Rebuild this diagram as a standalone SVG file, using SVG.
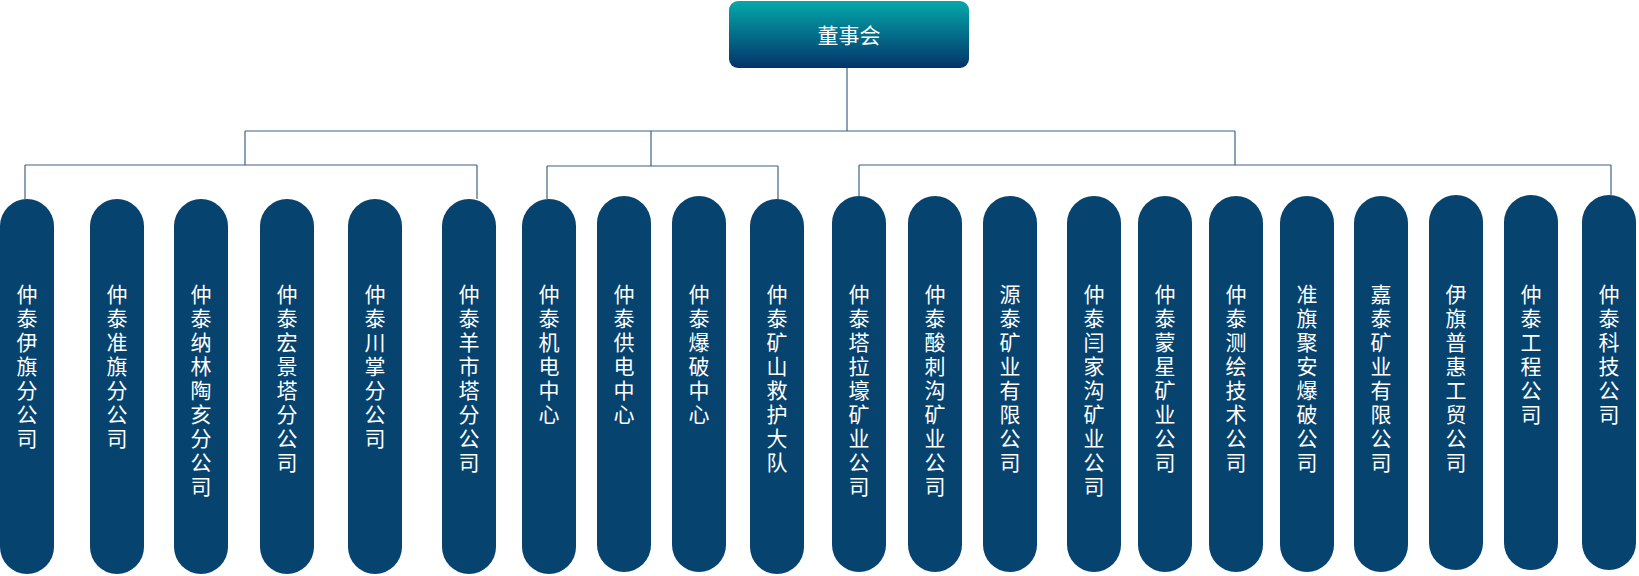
<svg xmlns="http://www.w3.org/2000/svg" width="1639" height="576" viewBox="0 0 1639 576">
<style>
.p{fill:#06436f}
.t{fill:#fff;font-family:"Noto Sans CJK SC",sans-serif;font-size:21px;text-anchor:middle}
.c{fill:none;stroke:#3d6385;stroke-width:1.2}
</style>
<defs><linearGradient id="g" x1="0" y1="0" x2="0" y2="1"><stop offset="0" stop-color="#03a9aa"/><stop offset="1" stop-color="#04336a"/></linearGradient></defs>
<g id="root"><rect x="729" y="1" width="240" height="67" rx="9" fill="url(#g)"/><text class="t" x="849" y="43">董事会</text></g>
<g id="connectors">
<path class="c" d="M847 68V131M245 131H1235M245 131V165M25 165H477M25 165V199M477 165V199M651 131V166M547 166H778M547 166V199M778 166V199M1235 131V165M859 165H1611M859 165V196M1611 165V195"/>
</g>
<g id="n1"><rect class="p" x="0" y="199" width="54" height="375" rx="27"/><text class="t" x="27" y="302"><tspan x="27">仲</tspan><tspan x="27" dy="24">泰</tspan><tspan x="27" dy="24">伊</tspan><tspan x="27" dy="24">旗</tspan><tspan x="27" dy="24">分</tspan><tspan x="27" dy="24">公</tspan><tspan x="27" dy="24">司</tspan></text></g>
<g id="n2"><rect class="p" x="90" y="199" width="54" height="375" rx="27"/><text class="t" x="117" y="302"><tspan x="117">仲</tspan><tspan x="117" dy="24">泰</tspan><tspan x="117" dy="24">准</tspan><tspan x="117" dy="24">旗</tspan><tspan x="117" dy="24">分</tspan><tspan x="117" dy="24">公</tspan><tspan x="117" dy="24">司</tspan></text></g>
<g id="n3"><rect class="p" x="174" y="199" width="54" height="375" rx="27"/><text class="t" x="201" y="302"><tspan x="201">仲</tspan><tspan x="201" dy="24">泰</tspan><tspan x="201" dy="24">纳</tspan><tspan x="201" dy="24">林</tspan><tspan x="201" dy="24">陶</tspan><tspan x="201" dy="24">亥</tspan><tspan x="201" dy="24">分</tspan><tspan x="201" dy="24">公</tspan><tspan x="201" dy="24">司</tspan></text></g>
<g id="n4"><rect class="p" x="260" y="199" width="54" height="375" rx="27"/><text class="t" x="287" y="302"><tspan x="287">仲</tspan><tspan x="287" dy="24">泰</tspan><tspan x="287" dy="24">宏</tspan><tspan x="287" dy="24">景</tspan><tspan x="287" dy="24">塔</tspan><tspan x="287" dy="24">分</tspan><tspan x="287" dy="24">公</tspan><tspan x="287" dy="24">司</tspan></text></g>
<g id="n5"><rect class="p" x="348" y="199" width="54" height="375" rx="27"/><text class="t" x="375" y="302"><tspan x="375">仲</tspan><tspan x="375" dy="24">泰</tspan><tspan x="375" dy="24">川</tspan><tspan x="375" dy="24">掌</tspan><tspan x="375" dy="24">分</tspan><tspan x="375" dy="24">公</tspan><tspan x="375" dy="24">司</tspan></text></g>
<g id="n6"><rect class="p" x="442" y="199" width="54" height="375" rx="27"/><text class="t" x="469" y="302"><tspan x="469">仲</tspan><tspan x="469" dy="24">泰</tspan><tspan x="469" dy="24">羊</tspan><tspan x="469" dy="24">市</tspan><tspan x="469" dy="24">塔</tspan><tspan x="469" dy="24">分</tspan><tspan x="469" dy="24">公</tspan><tspan x="469" dy="24">司</tspan></text></g>
<g id="n7"><rect class="p" x="522" y="199" width="54" height="375" rx="27"/><text class="t" x="549" y="302"><tspan x="549">仲</tspan><tspan x="549" dy="24">泰</tspan><tspan x="549" dy="24">机</tspan><tspan x="549" dy="24">电</tspan><tspan x="549" dy="24">中</tspan><tspan x="549" dy="24">心</tspan></text></g>
<g id="n8"><rect class="p" x="597" y="196" width="54" height="376" rx="27"/><text class="t" x="624" y="302"><tspan x="624">仲</tspan><tspan x="624" dy="24">泰</tspan><tspan x="624" dy="24">供</tspan><tspan x="624" dy="24">电</tspan><tspan x="624" dy="24">中</tspan><tspan x="624" dy="24">心</tspan></text></g>
<g id="n9"><rect class="p" x="672" y="196" width="54" height="376" rx="27"/><text class="t" x="699" y="302"><tspan x="699">仲</tspan><tspan x="699" dy="24">泰</tspan><tspan x="699" dy="24">爆</tspan><tspan x="699" dy="24">破</tspan><tspan x="699" dy="24">中</tspan><tspan x="699" dy="24">心</tspan></text></g>
<g id="n10"><rect class="p" x="750" y="199" width="54" height="375" rx="27"/><text class="t" x="777" y="302"><tspan x="777">仲</tspan><tspan x="777" dy="24">泰</tspan><tspan x="777" dy="24">矿</tspan><tspan x="777" dy="24">山</tspan><tspan x="777" dy="24">救</tspan><tspan x="777" dy="24">护</tspan><tspan x="777" dy="24">大</tspan><tspan x="777" dy="24">队</tspan></text></g>
<g id="n11"><rect class="p" x="832" y="196" width="54" height="376" rx="27"/><text class="t" x="859" y="302"><tspan x="859">仲</tspan><tspan x="859" dy="24">泰</tspan><tspan x="859" dy="24">塔</tspan><tspan x="859" dy="24">拉</tspan><tspan x="859" dy="24">壕</tspan><tspan x="859" dy="24">矿</tspan><tspan x="859" dy="24">业</tspan><tspan x="859" dy="24">公</tspan><tspan x="859" dy="24">司</tspan></text></g>
<g id="n12"><rect class="p" x="908" y="196" width="54" height="376" rx="27"/><text class="t" x="935" y="302"><tspan x="935">仲</tspan><tspan x="935" dy="24">泰</tspan><tspan x="935" dy="24">酸</tspan><tspan x="935" dy="24">刺</tspan><tspan x="935" dy="24">沟</tspan><tspan x="935" dy="24">矿</tspan><tspan x="935" dy="24">业</tspan><tspan x="935" dy="24">公</tspan><tspan x="935" dy="24">司</tspan></text></g>
<g id="n13"><rect class="p" x="983" y="196" width="54" height="376" rx="27"/><text class="t" x="1010" y="302"><tspan x="1010">源</tspan><tspan x="1010" dy="24">泰</tspan><tspan x="1010" dy="24">矿</tspan><tspan x="1010" dy="24">业</tspan><tspan x="1010" dy="24">有</tspan><tspan x="1010" dy="24">限</tspan><tspan x="1010" dy="24">公</tspan><tspan x="1010" dy="24">司</tspan></text></g>
<g id="n14"><rect class="p" x="1067" y="196" width="54" height="376" rx="27"/><text class="t" x="1094" y="302"><tspan x="1094">仲</tspan><tspan x="1094" dy="24">泰</tspan><tspan x="1094" dy="24">闫</tspan><tspan x="1094" dy="24">家</tspan><tspan x="1094" dy="24">沟</tspan><tspan x="1094" dy="24">矿</tspan><tspan x="1094" dy="24">业</tspan><tspan x="1094" dy="24">公</tspan><tspan x="1094" dy="24">司</tspan></text></g>
<g id="n15"><rect class="p" x="1138" y="196" width="54" height="376" rx="27"/><text class="t" x="1165" y="302"><tspan x="1165">仲</tspan><tspan x="1165" dy="24">泰</tspan><tspan x="1165" dy="24">蒙</tspan><tspan x="1165" dy="24">星</tspan><tspan x="1165" dy="24">矿</tspan><tspan x="1165" dy="24">业</tspan><tspan x="1165" dy="24">公</tspan><tspan x="1165" dy="24">司</tspan></text></g>
<g id="n16"><rect class="p" x="1209" y="196" width="54" height="376" rx="27"/><text class="t" x="1236" y="302"><tspan x="1236">仲</tspan><tspan x="1236" dy="24">泰</tspan><tspan x="1236" dy="24">测</tspan><tspan x="1236" dy="24">绘</tspan><tspan x="1236" dy="24">技</tspan><tspan x="1236" dy="24">术</tspan><tspan x="1236" dy="24">公</tspan><tspan x="1236" dy="24">司</tspan></text></g>
<g id="n17"><rect class="p" x="1280" y="196" width="54" height="376" rx="27"/><text class="t" x="1307" y="302"><tspan x="1307">准</tspan><tspan x="1307" dy="24">旗</tspan><tspan x="1307" dy="24">聚</tspan><tspan x="1307" dy="24">安</tspan><tspan x="1307" dy="24">爆</tspan><tspan x="1307" dy="24">破</tspan><tspan x="1307" dy="24">公</tspan><tspan x="1307" dy="24">司</tspan></text></g>
<g id="n18"><rect class="p" x="1354" y="196" width="54" height="376" rx="27"/><text class="t" x="1381" y="302"><tspan x="1381">嘉</tspan><tspan x="1381" dy="24">泰</tspan><tspan x="1381" dy="24">矿</tspan><tspan x="1381" dy="24">业</tspan><tspan x="1381" dy="24">有</tspan><tspan x="1381" dy="24">限</tspan><tspan x="1381" dy="24">公</tspan><tspan x="1381" dy="24">司</tspan></text></g>
<g id="n19"><rect class="p" x="1429" y="195" width="54" height="375" rx="27"/><text class="t" x="1456" y="302"><tspan x="1456">伊</tspan><tspan x="1456" dy="24">旗</tspan><tspan x="1456" dy="24">普</tspan><tspan x="1456" dy="24">惠</tspan><tspan x="1456" dy="24">工</tspan><tspan x="1456" dy="24">贸</tspan><tspan x="1456" dy="24">公</tspan><tspan x="1456" dy="24">司</tspan></text></g>
<g id="n20"><rect class="p" x="1504" y="195" width="54" height="375" rx="27"/><text class="t" x="1531" y="302"><tspan x="1531">仲</tspan><tspan x="1531" dy="24">泰</tspan><tspan x="1531" dy="24">工</tspan><tspan x="1531" dy="24">程</tspan><tspan x="1531" dy="24">公</tspan><tspan x="1531" dy="24">司</tspan></text></g>
<g id="n21"><rect class="p" x="1582" y="195" width="54" height="375" rx="27"/><text class="t" x="1609" y="302"><tspan x="1609">仲</tspan><tspan x="1609" dy="24">泰</tspan><tspan x="1609" dy="24">科</tspan><tspan x="1609" dy="24">技</tspan><tspan x="1609" dy="24">公</tspan><tspan x="1609" dy="24">司</tspan></text></g>
</svg>
